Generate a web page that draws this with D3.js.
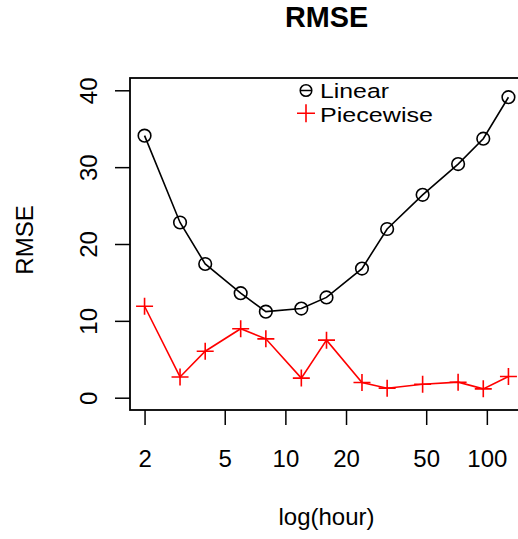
<!DOCTYPE html>
<html>
<head>
<meta charset="utf-8">
<script src="https://cdn.jsdelivr.net/npm/d3@7"></script>
<style>
  html, body { margin: 0; padding: 0; background: #fff; }
  svg { display: block; font-family: "Liberation Sans", Arial, sans-serif; }
</style>
</head>
<body>
<svg id="chart" width="518" height="539"></svg>
<script>
// Forecast horizon in hours and RMSE of each model
const hours = [2, 3, 4, 6, 8, 12, 16, 24, 32, 48, 72, 96, 128];
const linearRmse = [34.1, 22.8, 17.4, 13.6, 11.2, 11.6, 13.05, 16.8, 21.95, 26.4, 30.4, 33.7, 39.1];
const piecewiseRmse = [11.9, 2.7, 6.05, 8.97, 7.66, 2.55, 7.49, 1.98, 1.24, 1.76, 2.02, 1.15, 2.75];
const xTicks = [2, 5, 10, 20, 50, 100];
const yTicks = [0, 10, 20, 30, 40];
const legendLabels = ["Linear", "Piecewise"];

const svg = d3.select("#chart");
const box = { left: 130, top: 78, right: 523, bottom: 410 };

// log x axis padded 4% on each side, y limits 0..40 padded 4%
const lo = Math.log10(d3.min(hours)), hi = Math.log10(d3.max(hours));
const px = 0.04 * (hi - lo);
const x = d3.scaleLog()
  .domain([Math.pow(10, lo - px), Math.pow(10, hi + px)])
  .range([box.left, box.right]);
const y = d3.scaleLinear()
  .domain([0 - 1.6, 40 + 1.6])
  .range([box.bottom, box.top]);

const fontSize = 24;

// title
svg.append("text")
  .attr("x", (box.left + box.right) / 2).attr("y", 26.5)
  .attr("text-anchor", "middle")
  .attr("font-weight", "bold").attr("font-size", 28.8)
  .text("RMSE");

// plot frame
svg.append("rect")
  .attr("x", box.left).attr("y", box.top)
  .attr("width", box.right - box.left).attr("height", box.bottom - box.top)
  .attr("fill", "none").attr("stroke", "#000").attr("stroke-width", 1.8);

// x axis
const xAxis = d3.axisBottom(x).tickValues(xTicks).tickFormat(d3.format("d"))
  .tickSize(15).tickPadding(24);
const gx = svg.append("g").attr("transform", `translate(0,${box.bottom})`).call(xAxis);
gx.select(".domain").remove();
gx.selectAll(".tick line").attr("stroke", "#000").attr("stroke-width", 1.5);
gx.selectAll(".tick text").attr("font-size", fontSize).attr("font-family", "Liberation Sans, Arial, sans-serif")
  .attr("dy", null).attr("y", 56.5).attr("fill", "#000");

// y axis
const yAxis = d3.axisLeft(y).tickValues(yTicks).tickSize(15);
const gy = svg.append("g").attr("transform", `translate(${box.left},0)`).call(yAxis);
gy.select(".domain").remove();
gy.selectAll(".tick line").attr("stroke", "#000").attr("stroke-width", 1.5);
gy.selectAll(".tick text")
  .attr("font-size", fontSize).attr("font-family", "Liberation Sans, Arial, sans-serif")
  .attr("fill", "#000")
  .attr("x", null).attr("dy", null)
  .attr("text-anchor", "middle")
  .attr("transform", "translate(-33,0) rotate(-90)");

// axis titles
svg.append("text")
  .attr("x", (box.left + box.right) / 2).attr("y", 525)
  .attr("text-anchor", "middle").attr("font-size", fontSize)
  .text("log(hour)");
svg.append("text")
  .attr("transform", `translate(33,${(box.top + box.bottom) / 2 - 4}) rotate(-90)`)
  .attr("text-anchor", "middle").attr("font-size", fontSize)
  .text("RMSE");

const plot = svg.append("g");
const line = d3.line().x(d => x(d[0])).y(d => y(d[1]));

// Linear series: line with open circles
const linData = hours.map((h, i) => [h, linearRmse[i]]);
plot.append("path").datum(linData).attr("d", line)
  .attr("fill", "none").attr("stroke", "#000").attr("stroke-width", 1.6);
plot.selectAll("circle.lin").data(linData).join("circle")
  .attr("class", "lin")
  .attr("cx", d => x(d[0])).attr("cy", d => y(d[1])).attr("r", 6.3)
  .attr("fill", "none").attr("stroke", "#000").attr("stroke-width", 1.6);

// Piecewise series: red line with plus markers
const pwData = hours.map((h, i) => [h, piecewiseRmse[i]]);
plot.append("path").datum(pwData).attr("d", line)
  .attr("fill", "none").attr("stroke", "#ff0000").attr("stroke-width", 1.6);
const arm = 8.5;
plot.selectAll("path.pw").data(pwData).join("path")
  .attr("class", "pw")
  .attr("d", d => {
    const cx = x(d[0]), cy = y(d[1]);
    return `M${cx - arm},${cy}H${cx + arm}M${cx},${cy - arm}V${cy + arm}`;
  })
  .attr("fill", "none").attr("stroke", "#ff0000").attr("stroke-width", 1.6);

// legend (tight rows; glyphs widened to keep rows apart)
const lg = svg.append("g");
const legX = 306, legY = [90.5, 113.3];
const legWidths = [69, 113];
lg.append("circle").attr("cx", legX).attr("cy", legY[0]).attr("r", 5.8)
  .attr("fill", "none").attr("stroke", "#000").attr("stroke-width", 1.5);
lg.append("line").attr("x1", legX - 6).attr("x2", legX + 6)
  .attr("y1", legY[0]).attr("y2", legY[0]).attr("stroke", "#000").attr("stroke-width", 1.5);
lg.append("path")
  .attr("d", `M${legX - 9},${legY[1]}H${legX + 9}M${legX},${legY[1] - 9}V${legY[1] + 9}`)
  .attr("stroke", "#ff0000").attr("stroke-width", 1.6);
lg.selectAll("text").data(legendLabels).join("text")
  .attr("x", 320).attr("y", (d, i) => [98.4, 121.7][i])
  .attr("font-size", 20.5)
  .attr("textLength", (d, i) => legWidths[i])
  .attr("lengthAdjust", "spacingAndGlyphs")
  .text(d => d);
</script>
</body>
</html>
